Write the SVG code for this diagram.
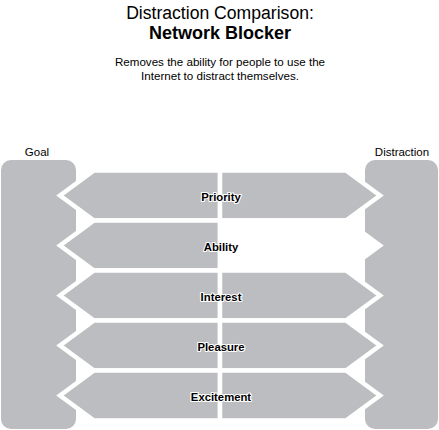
<svg xmlns="http://www.w3.org/2000/svg" width="439" height="430" viewBox="0 0 439 430">
<style>
.bg{fill:#ffffff}
.pillar{fill:#bcbdc0}
.arr{fill:#bcbdc0;stroke:#ffffff;stroke-width:4.5;stroke-linejoin:miter}
.arr-empty{fill:#ffffff;stroke:#ffffff;stroke-width:4.5;stroke-linejoin:miter}
.t{font-family:"Liberation Sans",Arial,Helvetica,sans-serif;fill:#000000;text-anchor:middle}
.title{font-size:17.6px}
.titleb{font-size:18px;font-weight:bold}
.sub{font-size:11.6px}
.plab{font-size:11.5px}
.alab{font-size:11.3px;font-weight:bold;stroke:#ffffff;stroke-width:2.2px;paint-order:stroke;stroke-linejoin:round}
</style>
<rect class="bg" x="0" y="0" width="439" height="430"/>
<g id="header">
<text class="t title" x="220" y="19">Distraction Comparison:</text>
<text class="t titleb" x="220" y="39">Network Blocker</text>
<text class="t sub" x="220" y="66">Removes the ability for people to use the</text>
<text class="t sub" x="220" y="79.5">Internet to distract themselves.</text>
</g>
<g id="goal">
<rect class="pillar" x="1" y="160" width="75" height="269" rx="10" ry="10"/>
<text class="t plab" x="37" y="156">Goal</text>
</g>
<g id="distraction">
<rect class="pillar" x="365" y="160" width="73" height="269" rx="10" ry="10"/>
<text class="t plab" x="402" y="156">Distraction</text>
</g>
<g id="connectors">
<g id="priority">
<path class="arr" d="M220 170.5 L94 170.5 L60 195.5 L94 220.5 L220 220.5 Z"/>
<path class="arr" d="M220 170.5 L346 170.5 L380 195.5 L346 220.5 L220 220.5 Z"/>
<text class="t alab" x="221" y="200.5">Priority</text>
</g>
<g id="ability">
<path class="arr" d="M220 220.5 L94 220.5 L60 245.5 L94 270.5 L220 270.5 Z"/>
<path class="arr-empty" d="M220 220.5 L346 220.5 L380 245.5 L346 270.5 L220 270.5 Z"/>
<text class="t alab" x="221" y="250.5">Ability</text>
</g>
<g id="interest">
<path class="arr" d="M220 270.5 L94 270.5 L60 295.5 L94 320.5 L220 320.5 Z"/>
<path class="arr" d="M220 270.5 L346 270.5 L380 295.5 L346 320.5 L220 320.5 Z"/>
<text class="t alab" x="221" y="300.5">Interest</text>
</g>
<g id="pleasure">
<path class="arr" d="M220 320.5 L94 320.5 L60 345.5 L94 370.5 L220 370.5 Z"/>
<path class="arr" d="M220 320.5 L346 320.5 L380 345.5 L346 370.5 L220 370.5 Z"/>
<text class="t alab" x="221" y="350.5">Pleasure</text>
</g>
<g id="excitement">
<path class="arr" d="M220 370.5 L94 370.5 L60 395.5 L94 420.5 L220 420.5 Z"/>
<path class="arr" d="M220 370.5 L346 370.5 L380 395.5 L346 420.5 L220 420.5 Z"/>
<text class="t alab" x="221" y="400.5">Excitement</text>
</g>
</g>
</svg>
